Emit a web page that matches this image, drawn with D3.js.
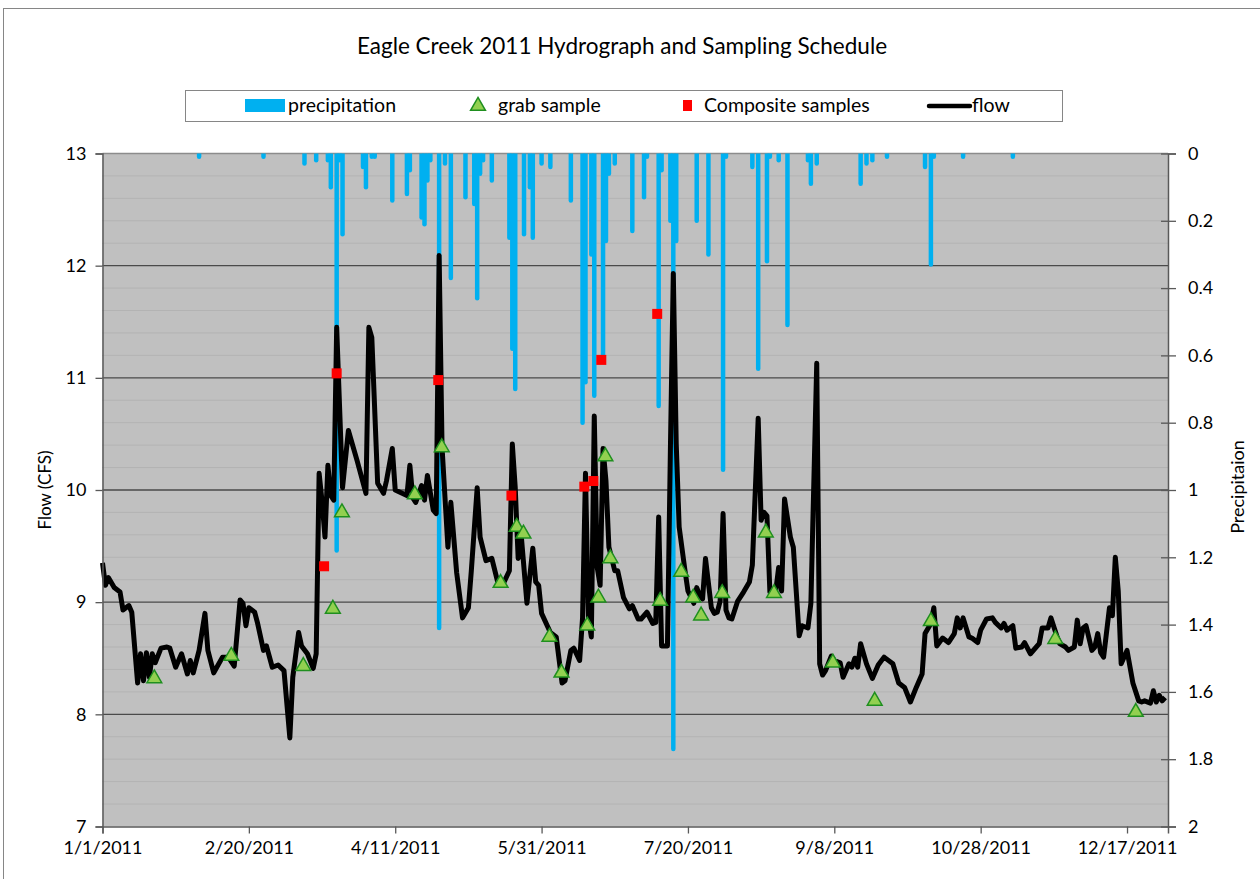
<!DOCTYPE html>
<html>
<head>
<meta charset="utf-8">
<script src="https://cdn.jsdelivr.net/npm/d3@7"></script>
<style>
  body { margin: 0; background: #fff; }
  text { font-family: Lato, 'Open Sans', sans-serif; fill: #000; }
</style>
</head>
<body>
<div id="chart"></div>
<script>
// ---- data (day of year, 0 = 1/1/2011) ----
var flowDays = [0,1,2,4,6,7,9,10,12,13,14,15,16,17,18,20,22,23,25,27,29,30,31,33,35,36,38,41,43,45,
  47,48,49,50,52,53,55,56,58,60,62,64,65,67,68,70,72,73,74,75,76,77,78,79,80,82,84,87,90,91,92,94,96,97,99,
  100,104,105,106,107,109,110,111,113,114,115,116,118,119,121,123,125,126,128,129,131,133,135,137,139,
  140,141,142,143,145,147,148,149,150,153,155,157,158,160,161,163,164,165,166,167,168,169,170,171,172,173,
  175,176,178,180,181,183,184,186,188,189,190,191,193,194,195,196,197,199,200,202,203,204,205,206,208,209,
  210,211,212,213,214,215,217,219,221,222,224,225,226,227,228,230,231,232,233,235,236,238,239,241,242,244,
  245,246,247,249,250,252,253,255,256,257,258,259,261,263,265,267,270,272,274,276,278,280,281,283,284,285,
  287,289,291,292,293,294,296,297,299,300,302,304,305,307,308,309,311,312,314,315,317,320,321,323,324,326,
  327,329,330,332,333,334,335,336,338,339,340,341,342,344,345,346,347,348,350,352,354,355,356,358,359,360,
  361,362,363];
var flowCfs = [9.35,9.15,9.22,9.13,9.09,8.93,8.97,8.91,8.28,8.54,8.30,8.55,8.33,8.54,8.46,8.59,8.60,8.59,8.42,8.54,
  8.36,8.48,8.37,8.57,8.90,8.57,8.37,8.51,8.51,8.43,
  9.02,8.99,8.79,8.95,8.91,8.81,8.57,8.61,8.42,8.44,8.39,7.79,8.33,8.73,8.61,8.54,8.41,8.54,10.15,9.90,9.58,10.22,
  9.95,9.91,11.45,10.02,10.53,10.26,9.97,11.45,11.36,10.06,9.97,10.08,10.37,
  10.00,9.95,10.22,9.93,9.89,10.04,9.91,10.13,9.82,9.79,12.09,10.38,9.49,9.89,9.26,8.86,8.95,9.28,10.02,9.58,
  9.37,9.39,9.18,9.17,9.28,
  10.41,10.02,9.39,9.61,8.99,9.48,9.18,9.15,8.90,8.73,8.69,8.28,8.30,8.57,8.59,8.48,8.86,10.15,8.86,8.69,10.66,
  9.31,9.15,10.37,10.08,9.49,
  9.28,9.28,9.04,8.94,8.97,8.85,8.85,8.91,8.81,8.82,9.76,8.61,8.61,10.35,11.93,10.41,9.67,9.28,9.10,8.99,9.13,
  9.06,9.03,9.39,8.95,8.90,
  8.91,9.01,9.79,8.93,8.86,8.85,9.01,9.09,9.18,9.33,10.64,9.73,9.80,9.77,9.09,9.10,9.31,9.10,9.92,9.58,9.49,
  8.70,8.79,8.77,8.99,11.13,
  8.45,8.35,8.39,8.52,8.48,8.46,8.33,8.45,8.42,8.50,8.42,8.63,8.45,8.32,8.44,8.51,8.45,8.28,8.24,8.11,8.24,
  8.36,8.72,8.81,8.95,8.61,
  8.68,8.64,8.72,8.86,8.77,8.86,8.69,8.68,8.64,8.75,8.85,8.86,8.82,8.77,8.81,8.75,8.79,8.59,8.60,8.64,8.54,
  8.63,8.77,8.77,8.86,8.70,
  8.63,8.60,8.57,8.60,8.84,8.63,8.77,8.79,8.57,8.60,8.72,8.55,8.51,8.95,8.88,9.40,9.10,8.45,8.57,8.28,8.12,
  8.11,8.12,8.10,8.21,8.11,
  8.17,8.12,8.15];

var precipDays = [33,55,69,73,77,78,80,81,82,89,90,92,93,99,104,105,109,110,111,112,115,117,119,124,127,128,129,
  130,133,139,140,141,144,146,147,150,153,160,164,165,167,168,171,172,173,175,181,185,186,190,191,194,195,196,
  203,207,212,213,222,224,227,228,231,234,241,242,244,259,261,263,268,281,283,284,294,311];
var precipIn = [0.01,0.01,0.03,0.02,0.02,0.10,1.18,0.02,0.24,0.04,0.10,0.01,0.01,0.14,0.12,0.05,0.19,0.21,0.08,
  0.02,1.41,0.03,0.37,0.13,0.15,0.43,0.06,0.02,0.08,0.25,0.58,0.70,0.24,0.10,0.25,0.03,0.04,0.14,0.80,0.68,0.30,
  0.72,0.61,0.26,0.06,0.03,0.23,0.13,0.01,0.75,0.05,0.20,1.77,0.26,0.20,0.30,0.94,0.01,0.04,0.64,0.32,0.01,0.02,
  0.51,0.02,0.09,0.03,0.09,0.03,0.02,0.01,0.04,0.33,0.01,0.01,0.01];

var grabDays = [17.7,44,68.6,78.7,81.8,106.7,115.9,136,141.5,143.8,152.7,156.8,165.6,169.4,171.8,173.5,190.5,
  197.7,201.8,204.5,211.7,226.6,229.4,249.5,263.8,283,325.5,353];
var grabCfs = [8.32,8.52,8.43,8.94,9.80,9.96,10.38,9.17,9.67,9.61,8.69,8.37,8.79,9.04,10.30,9.39,9.01,9.27,9.04,
  8.88,9.08,9.62,9.08,8.46,8.12,8.83,8.67,8.02];

var compDays = [75.7,80,114.7,139.7,164.6,167.7,170.4,189.5];
var compCfs = [9.32,11.04,10.98,9.95,10.03,10.08,11.16,11.57];

var xTickLabels = ['1/1/2011','2/20/2011','4/11/2011','5/31/2011','7/20/2011','9/8/2011','10/28/2011','12/17/2011'];
var flowTicks = [7,8,9,10,11,12,13];
var precipTicks = [0,0.2,0.4,0.6,0.8,1,1.2,1.4,1.6,1.8,2];

// ---- base ----
var W = 1260, H = 879;
var plot = {left: 102.5, top: 153.5, right: 1168, bottom: 826.5};
var width = plot.right - plot.left, height = plot.bottom - plot.top;

var start = Date.UTC(2011, 0, 1);
function dayDate(d) { return new Date(start + d * 86400000); }

var svg = d3.select('#chart').append('svg')
    .attr('width', W)
    .attr('height', H);

svg.append('rect')
    .attr('x', 3.5).attr('y', 8.5)
    .attr('width', W + 10).attr('height', H + 10)
    .style('fill', '#fff').style('stroke', '#868686');

var x = d3.scaleUtc()
    .domain([dayDate(0), dayDate(364)])
    .range([0, width]);
var yFlow = d3.scaleLinear().domain([7, 13]).range([height, 0]);
var yPrecip = d3.scaleLinear().domain([0, 2]).range([0, height]);

var g = svg.append('g')
    .attr('transform', 'translate(' + plot.left + ',' + plot.top + ')');

g.append('clipPath').attr('id', 'clip')
  .append('rect').attr('width', width).attr('height', height);

g.append('rect')
    .attr('width', width).attr('height', height)
    .style('fill', '#c0c0c0');

// minor grid every 0.2
var minor = d3.range(7.2, 13, 0.2).filter(function(v) { return Math.abs(v - Math.round(v)) > 0.05; });
g.selectAll('.minor')
    .data(minor).enter().append('line')
    .attr('x1', 0).attr('x2', width)
    .attr('y1', function(d) { return yFlow(d); })
    .attr('y2', function(d) { return yFlow(d); })
    .style('stroke', '#b3b3b3').style('stroke-width', 1);

g.selectAll('.major')
    .data(flowTicks.slice(1, -1)).enter().append('line')
    .attr('x1', 0).attr('x2', width)
    .attr('y1', function(d) { return yFlow(d); })
    .attr('y2', function(d) { return yFlow(d); })
    .style('stroke', '#4a4a4a').style('stroke-width', 1.3);

g.append('line')
    .attr('x1', 0).attr('x2', width).attr('y1', 0).attr('y2', 0)
    .style('stroke', '#8c8c8c').style('stroke-width', 1.5);

// precipitation bars
var pdata = precipDays.map(function(d, i) { return {day: d, v: precipIn[i]}; });
g.append('g').attr('clip-path', 'url(#clip)')
  .selectAll('line')
    .data(pdata).enter().append('line')
    .attr('x1', function(d) { return x(dayDate(d.day)); })
    .attr('x2', function(d) { return x(dayDate(d.day)); })
    .attr('y1', yPrecip(0) - 5)
    .attr('y2', function(d) { return yPrecip(d.v); })
    .style('stroke', '#00b0f0')
    .style('stroke-width', 4.5)
    .style('stroke-linecap', 'round');

// flow
var fdata = flowDays.map(function(d, i) { return {day: d, v: flowCfs[i]}; });
var line = d3.line()
    .x(function(d) { return x(dayDate(d.day)); })
    .y(function(d) { return yFlow(d.v); });
g.append('path')
    .datum(fdata)
    .attr('d', line)
    .style('fill', 'none')
    .style('stroke', '#000')
    .style('stroke-width', 5)
    .style('stroke-linejoin', 'round');

// grab samples
var tri = d3.symbol().type(d3.symbolTriangle).size(95);
g.selectAll('.grab')
    .data(grabDays.map(function(d, i) { return {day: d, v: grabCfs[i]}; }))
    .enter().append('path')
    .attr('d', tri)
    .attr('transform', function(d) { return 'translate(' + x(dayDate(d.day)) + ',' + yFlow(d.v) + ')'; })
    .style('fill', '#92d050')
    .style('stroke', '#1f8f1f')
    .style('stroke-width', 1.5);

// composite samples
g.selectAll('.comp')
    .data(compDays.map(function(d, i) { return {day: d, v: compCfs[i]}; }))
    .enter().append('rect')
    .attr('x', function(d) { return x(dayDate(d.day)) - 5; })
    .attr('y', function(d) { return yFlow(d.v) - 5; })
    .attr('width', 10).attr('height', 10)
    .style('fill', '#ff0000');

// axes
var parseTick = d3.utcParse('%m/%d/%Y');
var xAxis = g.append('g')
    .attr('transform', 'translate(0,' + height + ')')
    .call(d3.axisBottom(x)
      .tickValues(xTickLabels.map(parseTick))
      .tickFormat(function(d, i) { return xTickLabels[i]; })
      .tickSize(7).tickPadding(8));

var leftAxis = g.append('g')
    .call(d3.axisLeft(yFlow).tickValues(flowTicks).tickFormat(d3.format('d'))
      .tickSize(7).tickPadding(9));

var rightAxis = g.append('g')
    .attr('transform', 'translate(' + width + ',0)')
    .call(d3.axisRight(yPrecip).tickValues(precipTicks).tickSize(8).tickPadding(12)
      .tickFormat(function(d) { return d3.format('')(+d.toFixed(1)); }));
rightAxis.selectAll('.tick line').attr('x1', -7);

[xAxis, leftAxis, rightAxis].forEach(function(a) {
  a.select('.domain').style('stroke', '#595959').style('stroke-width', 1.5);
  a.selectAll('.tick line').style('stroke', '#595959').style('stroke-width', 1.3);
  a.selectAll('text').style('font-size', '18px').style('fill', '#000')
    .style('font-family', "Lato, 'Open Sans', sans-serif");
});

// titles
svg.append('text')
    .attr('x', 622).attr('y', 54)
    .attr('text-anchor', 'middle')
    .style('font-size', '22.5px')
    .text('Eagle Creek 2011 Hydrograph and Sampling Schedule');

svg.append('text')
    .attr('transform', 'translate(51,490) rotate(-90)')
    .attr('text-anchor', 'middle')
    .style('font-size', '17px')
    .text('Flow (CFS)');

svg.append('text')
    .attr('transform', 'translate(1244,487) rotate(-90)')
    .attr('text-anchor', 'middle')
    .style('font-size', '18px')
    .text('Precipitaion');

// legend
var lg = svg.append('g');
lg.append('rect')
    .attr('x', 185.5).attr('y', 90.5).attr('width', 877).attr('height', 31)
    .style('fill', '#fff').style('stroke', '#868686');
lg.append('rect')
    .attr('x', 245).attr('y', 99).attr('width', 40).attr('height', 13)
    .style('fill', '#00b0f0');
lg.append('text').attr('x', 288).attr('y', 112).style('font-size', '19.5px').text('precipitation');
lg.append('path')
    .attr('d', tri)
    .attr('transform', 'translate(478,106)')
    .style('fill', '#92d050').style('stroke', '#1f8f1f').style('stroke-width', 1.5);
lg.append('text').attr('x', 498).attr('y', 112).style('font-size', '19.5px').text('grab sample');
lg.append('rect')
    .attr('x', 683).attr('y', 100).attr('width', 9).attr('height', 11)
    .style('fill', '#ff0000');
lg.append('text').attr('x', 704).attr('y', 112).style('font-size', '19.5px').text('Composite samples');
lg.append('line')
    .attr('x1', 929).attr('x2', 970).attr('y1', 106).attr('y2', 106)
    .style('stroke', '#000').style('stroke-width', 4.5).style('stroke-linecap', 'round');
lg.append('text').attr('x', 972).attr('y', 112).style('font-size', '19.5px').text('flow');
</script>
</body>
</html>
